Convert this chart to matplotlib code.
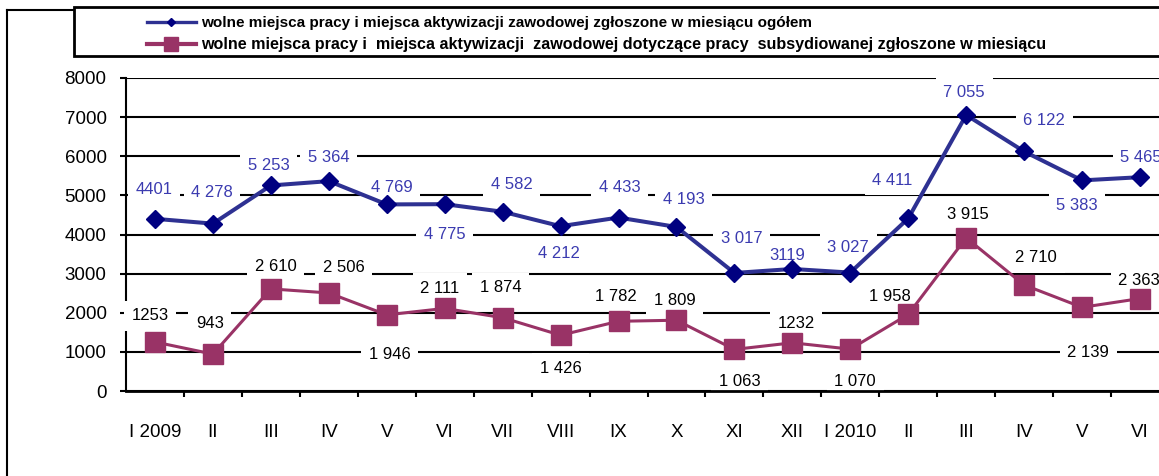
import matplotlib
matplotlib.use("Agg")
import matplotlib.pyplot as plt
from matplotlib.lines import Line2D
from matplotlib.patches import Rectangle

plt.rcParams['font.family'] = ['Liberation Sans', 'DejaVu Sans']

# ---- data ----
categories = ["I 2009", "II", "III", "IV", "V", "VI", "VII", "VIII", "IX", "X",
              "XI", "XII", "I 2010", "II", "III", "IV", "V", "VI"]
total_offers = [4401, 4278, 5253, 5364, 4769, 4775, 4582, 4212, 4433, 4193,
                3017, 3119, 3027, 4411, 7055, 6122, 5383, 5465]
subsidised_offers = [1253, 943, 2610, 2506, 1946, 2111, 1874, 1426, 1782, 1809,
                     1063, 1232, 1070, 1958, 3915, 2710, 2139, 2363]
total_labels = ["4401", "4 278", "5 253", "5 364", "4 769", "4 775", "4 582", "4 212",
                "4 433", "4 193", "3 017", "3119", "3 027", "4 411", "7 055", "6 122",
                "5 383", "5 465"]
subsidised_labels = ["1253", "943", "2 610", "2 506", "1 946", "2 111", "1 874", "1 426",
                     "1 782", "1 809", "1 063", "1232", "1 070", "1 958", "3 915", "2 710",
                     "2 139", "2 363"]
y_ticks = [0, 1000, 2000, 3000, 4000, 5000, 6000, 7000, 8000]
legend_labels = [
    "wolne miejsca pracy i miejsca aktywizacji zawodowej zgłoszone w miesiącu ogółem",
    "wolne miejsca pracy i  miejsca aktywizacji  zawodowej dotyczące pracy  subsydiowanej zgłoszone w miesiącu",
]

# label offsets in pixels (dx, dy up)
total_off = [(-1, 29), (-1, 31), (-2, 20), (0, 24), (5, 17), (0, -30), (9, 27), (-2, -27),
             (1, 30), (7, 27), (7, 34), (-5, 13), (-2, 25), (-16, 38), (-2, 22), (20, 31),
             (-5, -25), (1, 20)]
sub_off = [(-5, 26), (-3, 31), (5, 22), (15, 25), (3, -40), (-5, 20), (-2, 30), (0, -33),
           (-3, 25), (-2, 20), (5, -32), (4, 19), (5, -32), (-18, 18), (2, 23), (12, 27),
           (6, -45), (-1, 18)]

W, H = 1159, 476
DPI = 100
fig = plt.figure(figsize=(W / DPI, H / DPI), dpi=DPI)
fig.patch.set_facecolor("white")

ax = fig.add_axes([126 / W, (H - 391) / H, (1169 - 126) / W, 313 / H])
x = list(range(len(categories)))

blue_line = "#2E3192"
blue_marker = "#000080"
blue_text = "#3B3BB0"
mag = "#993366"

ax.plot(x, total_offers, color=blue_line, lw=2.9, marker="D", markersize=9.5,
        markerfacecolor=blue_marker, markeredgecolor=blue_marker, zorder=4, clip_on=False)
ax.plot(x, subsidised_offers, color=mag, lw=2.2, marker="s", markersize=14,
        markerfacecolor=mag, markeredgecolor=mag, zorder=4, clip_on=False)

px2pt = 72 / DPI
bbox = dict(boxstyle="square,pad=0.45", fc="white", ec="none")
for xi, v, lab, (dx, dy) in zip(x, total_offers, total_labels, total_off):
    ax.annotate(lab, (xi, v), xytext=(dx * px2pt, dy * px2pt), textcoords="offset points",
                ha="center", va="center", fontsize=12, color=blue_text, bbox=bbox,
                zorder=3, annotation_clip=False)
for xi, v, lab, (dx, dy) in zip(x, subsidised_offers, subsidised_labels, sub_off):
    ax.annotate(lab, (xi, v), xytext=(dx * px2pt, dy * px2pt), textcoords="offset points",
                ha="center", va="center", fontsize=12, color="black", bbox=bbox,
                zorder=3, annotation_clip=False)

ax.set_xlim(-0.5, len(categories) - 0.5)
ax.set_ylim(0, 8000)
ax.set_yticks(y_ticks)
ax.set_yticklabels([str(t) for t in y_ticks], fontsize=13.5)
ax.set_xticks(x)
ax.set_xticklabels(categories, fontsize=13.5)
ax.set_xticks([i + 0.5 for i in x], minor=True)
ax.tick_params(axis="x", which="major", length=0, pad=24)
ax.tick_params(axis="x", which="minor", length=4, width=1.5, direction="out", color="black")
ax.tick_params(axis="y", which="major", length=4, width=1.5, direction="out", pad=10)
ax.grid(axis="y", color="black", lw=1.5, zorder=0.5)
ax.set_axisbelow(True)
ax.xaxis.set_zorder(6)
for s in ("top", "right", "bottom"):
    ax.spines[s].set_visible(False)
ax.spines["left"].set_linewidth(1.5)
# x axis line drawn on top of everything in the axes
fig.add_artist(Line2D([0, 1], [0, 0], transform=ax.transAxes, color="black", lw=2,
                      zorder=5, clip_on=False))


# outer frame
def fx(p):
    return p / W


def fy(p):
    return 1 - p / H


fig.add_artist(Line2D([fx(7), fx(7)], [fy(10), fy(480)], color="black", lw=1.5))
fig.add_artist(Line2D([fx(7), fx(1165)], [fy(10), fy(10)], color="black", lw=1.5))

# legend box
fig.add_artist(Rectangle((fx(74), fy(56)), fx(1200) - fx(74), (56 - 7) / H,
                         facecolor="white", edgecolor="black", lw=2, zorder=10))
fig.add_artist(Line2D([fx(147), fx(196)], [fy(22), fy(22)], color=blue_line, lw=2.4, zorder=11))
fig.add_artist(Line2D([fx(171)], [fy(22)], marker="D", markersize=4.5, color=blue_marker,
                      lw=0, zorder=12))
fig.add_artist(Line2D([fx(147), fx(196)], [fy(44), fy(44)], color=mag, lw=3, zorder=11))
fig.add_artist(Line2D([fx(171)], [fy(44)], marker="s", markersize=10, color=mag,
                      lw=0, zorder=12))
fig.text(fx(201), fy(26.5), legend_labels[0], ha="left", va="baseline", fontsize=11,
         fontweight="bold", zorder=12)
fig.text(fx(201), fy(49), legend_labels[1], ha="left", va="baseline", fontsize=11.6,
         fontweight="bold", zorder=12)

fig.savefig("out.png", dpi=DPI)
